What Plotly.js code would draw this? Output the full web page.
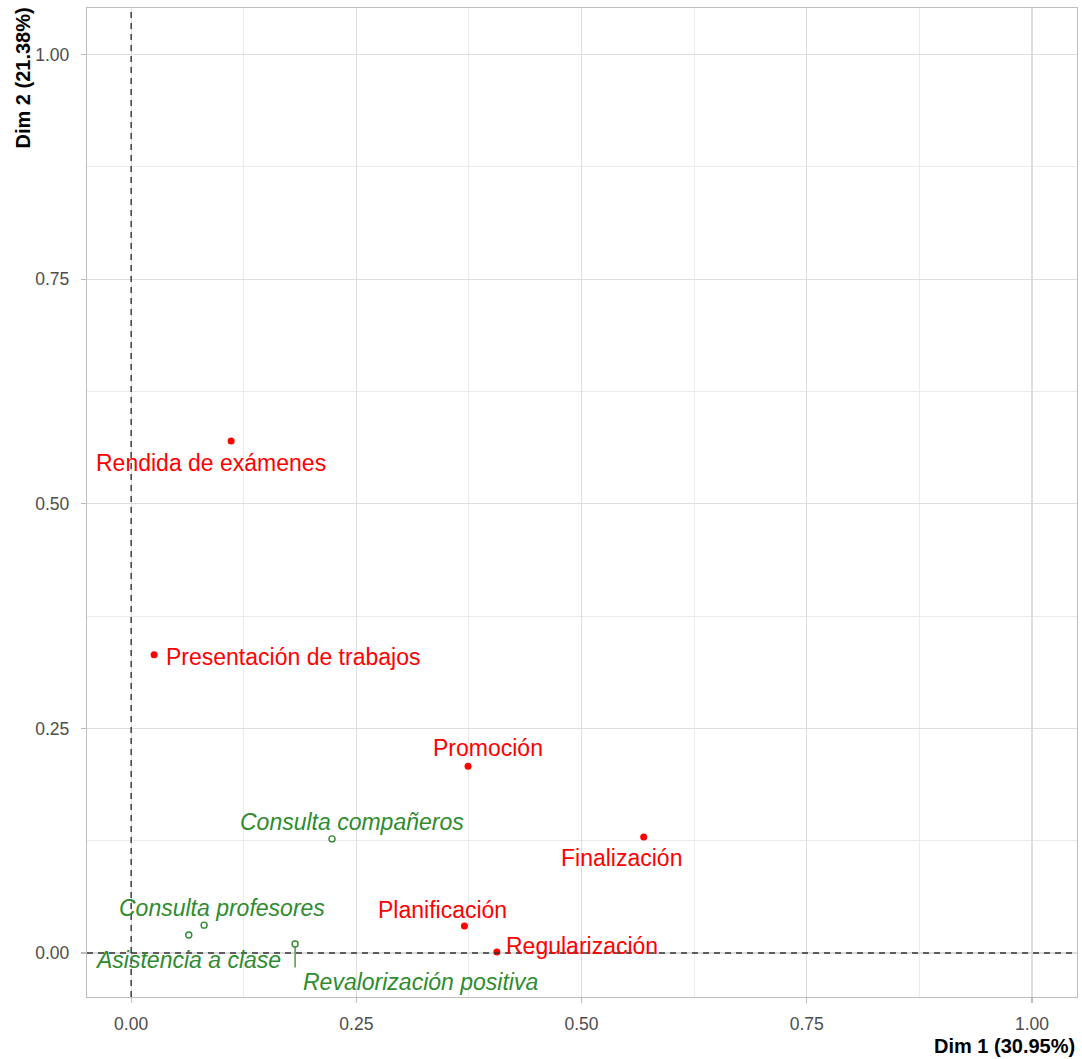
<!DOCTYPE html>
<html>
<head>
<meta charset="utf-8">
<script src="https://cdn.plot.ly/plotly-3.0.1.min.js"></script>
<style>html,body{margin:0;padding:0;background:#fff;}</style>
</head>
<body>
<div id="chart" style="width:1082px;height:1059px;"></div>
<script>
// Active variables (red)
const activeNames = ["Rendida de exámenes", "Presentación de trabajos", "Promoción", "Finalización", "Planificación", "Regularización"];
const activeDim1 = [0.111, 0.0255, 0.374, 0.569, 0.370, 0.406];
const activeDim2 = [0.570, 0.332, 0.208, 0.129, 0.030, 0.001];

// Supplementary variables (green)
const supNames = ["Consulta compañeros", "Consulta profesores", "Asistencia a clase", "Revalorización positiva"];
const supDim1 = [0.223, 0.081, 0.064, 0.182];
const supDim2 = [0.127, 0.031, 0.020, 0.010];

const xTitle = "Dim 1 (30.95%)";
const yTitle = "Dim 2 (21.38%)";
const tickVals = [0, 0.25, 0.5, 0.75, 1];
const tickText = ["0.00", "0.25", "0.50", "0.75", "1.00"];

// label placement (pixel offsets, style only)
const activeLabelStyle = [
  {xs: -20, ys: -22, xa: "center"},
  {xs: 10, ys: -2, xa: "left"},
  {xs: 20, ys: 18, xa: "center"},
  {xs: -22, ys: -21, xa: "center"},
  {xs: -22, ys: 16, xa: "center"},
  {xs: 7, ys: 6, xa: "left"}
];
const supLabelStyle = [
  {xs: 20, ys: 17, xa: "center"},
  {xs: 18, ys: 17, xa: "center"},
  {xs: -1, ys: -25, xa: "center"},
  {xs: 6, ys: -38, xa: "left"}
];

const RED = "#FF0000";
const GREEN = "#2E8B2E";
const FONT = "Liberation Sans, Arial, sans-serif";

const traces = [
  {
    type: "scatter", mode: "markers",
    x: activeDim1, y: activeDim2, text: activeNames,
    marker: {color: RED, size: 7, symbol: "circle"},
    hoverinfo: "text", showlegend: false
  },
  {
    type: "scatter", mode: "markers",
    x: supDim1, y: supDim2, text: supNames,
    marker: {color: "rgba(255,255,255,0)", size: 6, symbol: "circle", line: {color: GREEN, width: 1.4}},
    hoverinfo: "text", showlegend: false
  }
];

const annotations = [];
activeNames.forEach((n, i) => {
  const s = activeLabelStyle[i];
  annotations.push({
    x: activeDim1[i], y: activeDim2[i], xref: "x", yref: "y",
    text: n, showarrow: false, xanchor: s.xa, yanchor: "middle",
    xshift: s.xs, yshift: s.ys,
    font: {family: FONT, size: 23, color: RED}
  });
});
supNames.forEach((n, i) => {
  const s = supLabelStyle[i];
  annotations.push({
    x: supDim1[i], y: supDim2[i], xref: "x", yref: "y",
    text: "<i>" + n + "</i>", showarrow: false, xanchor: s.xa, yanchor: "middle",
    xshift: s.xs, yshift: s.ys,
    font: {family: FONT, size: 23, color: GREEN}
  });
});
// repel segment for "Revalorización positiva"
annotations.push({
  x: supDim1[3], y: supDim2[3], xref: "x", yref: "y",
  text: "", showarrow: true, arrowhead: 0, arrowwidth: 1.3, arrowcolor: GREEN,
  ax: 0, ay: 25, standoff: 3, startstandoff: 0
});
// axis titles (ggplot-style placement)
annotations.push({
  xref: "paper", yref: "paper", x: 1, y: 0, xanchor: "right", yanchor: "top",
  yshift: -36, text: "<b>" + xTitle + "</b>", showarrow: false,
  font: {family: FONT, size: 20, color: "#000"}
});
annotations.push({
  xref: "paper", yref: "paper", x: 0, y: 1, xanchor: "center", yanchor: "top",
  xshift: -65, yshift: 2, text: "<b>" + yTitle + "</b>", showarrow: false, textangle: -90,
  font: {family: FONT, size: 20, color: "#000"}
});

const axisCommon = {
  tickvals: tickVals, ticktext: tickText,
  showgrid: true, gridcolor: "#DEDEDE", gridwidth: 1.2,
  minor: {tickvals: [0.125, 0.375, 0.625, 0.875], showgrid: true, gridcolor: "#EBEBEB", gridwidth: 1, ticklen: 0},
  zeroline: false,
  showline: true, mirror: true, linecolor: "#BDBDBD", linewidth: 1.2,
  ticks: "outside", ticklen: 5, tickcolor: "#BDBDBD", tickwidth: 1.2,
  tickfont: {family: FONT, size: 17.5, color: "#4D4D4D"},
  fixedrange: true
};

const layout = {
  width: 1082, height: 1059,
  margin: {l: 87, r: 5, t: 8, b: 62},
  paper_bgcolor: "#fff", plot_bgcolor: "#fff",
  xaxis: Object.assign({}, axisCommon, {range: [-0.049, 1.05], ticklabelstandoff: 6}),
  yaxis: Object.assign({}, axisCommon, {range: [-0.049, 1.052], ticklabelstandoff: 8}),
  shapes: [
    {type: "line", xref: "x", yref: "paper", x0: 0, x1: 0, y0: 0, y1: 1,
     line: {color: "#333", width: 1.4, dash: "6px,5px"}, layer: "above"},
    {type: "line", xref: "paper", yref: "y", x0: 0, x1: 1, y0: 0, y1: 0,
     line: {color: "#333", width: 1.4, dash: "6px,5px"}, layer: "above"}
  ],
  annotations: annotations,
  font: {family: FONT},
  showlegend: false
};

Plotly.newPlot("chart", traces, layout, {displayModeBar: false, staticPlot: true});
</script>
</body>
</html>
